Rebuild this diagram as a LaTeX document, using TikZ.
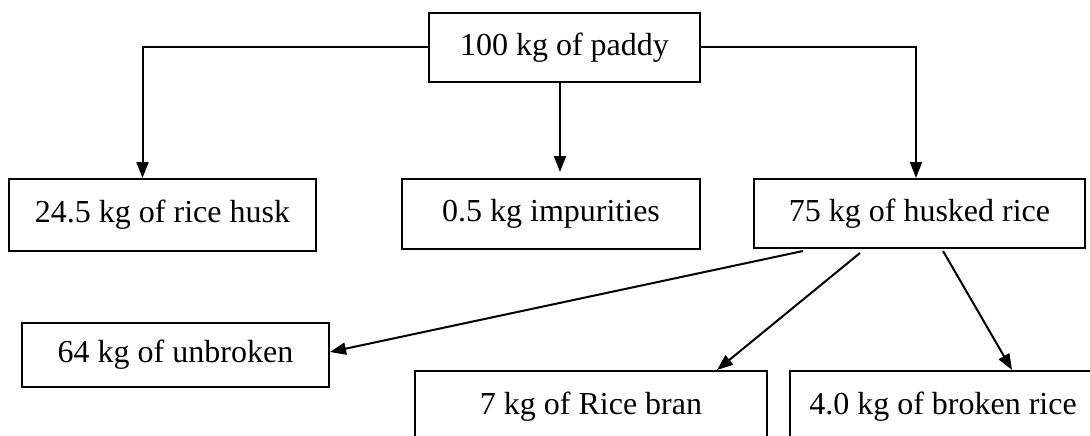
\documentclass[tikz,border=0pt]{standalone}
\usepackage{fontspec}
\setmainfont{Liberation Serif}
\usetikzlibrary{arrows.meta,calc}
\begin{document}
\begin{tikzpicture}[x=1pt,y=-1pt,
  box/.style={draw,line width=2pt,rectangle,inner sep=0pt,font=\fontsize{32}{36}\selectfont},
  arr/.style={line width=2pt,-{Triangle[length=16pt,width=12pt]}}]
\useasboundingbox (0,0) rectangle (1090,436);
\clip (0,0) rectangle (1090,436);
\node[box,minimum width=271pt,minimum height=69pt] (top) at (564.5,47.5) {100 kg of paddy};
\node[box,minimum width=307pt,minimum height=72pt] (husk) at (162.5,215) {24.5 kg of rice husk};
\node[box,minimum width=298pt,minimum height=70pt] (imp) at (551,214) {0.5 kg impurities};
\node[box,minimum width=331pt,minimum height=69pt] (husked) at (919.5,213.5) {75 kg of husked rice};
\node[box,minimum width=307pt,minimum height=64pt] (unbroken) at (175.5,355) {64 kg of unbroken};
\node[box,minimum width=352pt,minimum height=72pt] (bran) at (591,407) {7 kg of Rice bran};
\node[box,minimum width=306pt,minimum height=72pt] (broken) at (943,407) {4.0 kg of broken rice};
\coordinate (hc) at (142.5,47.5);
\draw[arr] (top.west) -- (hc) -- (hc |- husk.north);
\draw[arr] ([xshift=-4.5pt]top.south) -- ([xshift=9pt,yshift=6pt]imp.north);
\coordinate (rc) at (916,47.5);
\draw[arr] (top.east) -- (rc) -- (rc |- husked.north);
\draw[arr] ([xshift=-116.5pt,yshift=-2pt]husked.south) -- ([yshift=3pt]unbroken.east);
\draw[arr] ([xshift=-59.5pt,yshift=-4pt]husked.south) -- ([xshift=126pt]bran.north);
\draw[arr] ([xshift=23.5pt,yshift=-2pt]husked.south) -- ([xshift=69pt]broken.north);
\end{tikzpicture}
\end{document}
